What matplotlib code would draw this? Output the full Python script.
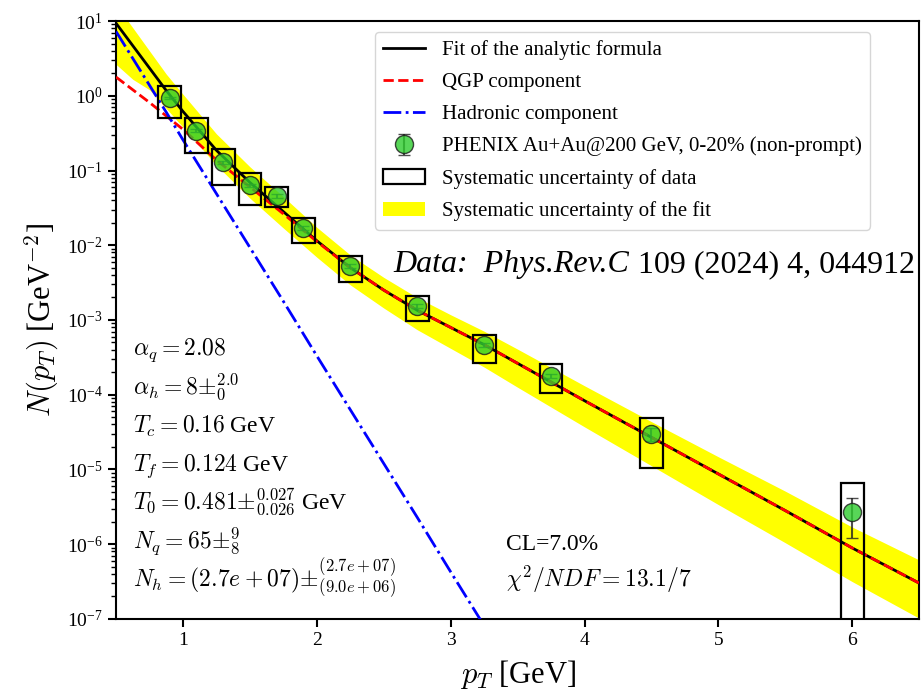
import numpy as np
import matplotlib
matplotlib.use('Agg')
import matplotlib.pyplot as plt
from matplotlib.patches import Rectangle
from matplotlib.offsetbox import TextArea, HPacker, AnchoredOffsetbox

plt.rcParams['font.family'] = 'serif'
plt.rcParams['font.serif'] = ['Liberation Serif', 'DejaVu Serif']
plt.rcParams['mathtext.fontset'] = 'cm'

# PHENIX data points
pt = [0.9, 1.1, 1.3, 1.5, 1.7, 1.9, 2.25, 2.75, 3.25, 3.75, 4.5, 6.0]
yields = [0.93, 0.34, 0.13, 0.064, 0.046, 0.017, 0.0053, 0.00154, 4.6e-4, 1.78e-4, 2.99e-5, 2.7e-6]
stat_err = [0.03, 0.015, 0.006, 0.003, 0.003, 0.001, 0.0003, 0.0001, 3e-5, 1.2e-5, 6e-6, 1.5e-6]
sys_lo = [0.50, 0.171, 0.064, 0.0346, 0.0325, 0.0107, 0.00322, 0.00097, 2.66e-4, 1.05e-4, 1.05e-5, 1e-9]
sys_hi = [1.35, 0.50, 0.194, 0.093, 0.060, 0.0232, 0.0072, 0.00209, 6.3e-4, 2.58e-4, 4.9e-5, 6.6e-6]
box_width = 0.17

# curves, stored as log10 values
curve_pt = [0.5, 0.625, 0.75, 0.875, 1.0, 1.25, 1.5, 1.75, 2.0, 2.25, 2.5, 2.75, 3.0, 3.25,
            3.5, 4.0, 4.5, 5.0, 5.5, 6.0, 6.5]
fit_log = [0.97, 0.67, 0.37, 0.07, -0.21, -0.73, -1.16, -1.55, -1.94, -2.30, -2.60, -2.87,
           -3.10, -3.33, -3.58, -4.08, -4.57, -5.06, -5.55, -6.05, -6.52]
qgp_log = [0.25, 0.08, -0.09, -0.27, -0.45, -0.86, -1.22, -1.58, -1.95, -2.30, -2.60, -2.87,
           -3.10, -3.33, -3.58, -4.08, -4.57, -5.06, -5.55, -6.05, -6.52]
band_hi_log = [1.22, 0.91, 0.60, 0.29, 0.02, -0.51, -0.95, -1.35, -1.76, -2.13, -2.43, -2.70,
               -2.93, -3.15, -3.39, -3.88, -4.36, -4.83, -5.29, -5.77, -6.21]
band_lo_log = [0.42, 0.22, 0.08, -0.17, -0.42, -0.93, -1.37, -1.77, -2.16, -2.53, -2.84, -3.13,
               -3.38, -3.63, -3.90, -4.43, -4.95, -5.47, -5.98, -6.50, -6.99]
hadr_pt = [0.5, 0.625, 0.75, 0.875, 1.0, 1.25, 1.5, 1.75, 2.0, 2.25, 2.5, 2.75, 3.0, 3.25]
hadr_log = [0.86, 0.50, 0.14, -0.22, -0.59, -1.31, -2.03, -2.75, -3.48, -4.20, -4.92, -5.64,
            -6.37, -7.09]

params = [
    r'$\alpha_q = 2.08$',
    r'$\alpha_h = 8{\pm}_{0}^{2.0}$',
    r'$T_c = 0.16$ GeV',
    r'$T_f = 0.124$ GeV',
    r'$T_0 = 0.481{\pm}_{0.026}^{0.027}$ GeV',
    r'$N_q = 65{\pm}_{8}^{9}$',
    r'$N_h = (2.7e+07){\pm}_{(9.0e+06)}^{(2.7e+07)}$',
]

fig = plt.figure(figsize=(9.21, 6.98), dpi=100)
ax = fig.add_axes([0.126, 0.1132, 0.872, 0.8567])

band = ax.fill_between(curve_pt, 10 ** np.array(band_lo_log), 10 ** np.array(band_hi_log),
                       color='yellow', lw=0, zorder=1, label='Systematic uncertainty of the fit')
fit_line, = ax.plot(curve_pt, 10 ** np.array(fit_log), color='black', lw=2, zorder=2,
                    label='Fit of the analytic formula')
qgp_line, = ax.plot(curve_pt, 10 ** np.array(qgp_log), color='red', ls='--', lw=2, zorder=3,
                    label='QGP component')
hadr_line, = ax.plot(hadr_pt, 10 ** np.array(hadr_log), color='blue', ls='-.', lw=2, zorder=3,
                     label='Hadronic component')

for x, lo, hi in zip(pt, sys_lo, sys_hi):
    ax.add_patch(Rectangle((x - box_width / 2, lo), box_width, hi - lo, fill=False,
                           edgecolor='black', lw=1.6, zorder=4))
box_handle = Rectangle((0, 0), 1, 1, fill=False, edgecolor='black', lw=1.6,
                       label='Systematic uncertainty of data')

pts = ax.errorbar(pt, yields, yerr=stat_err, fmt='o', color='#222222', ecolor='#222222',
                  elinewidth=1.5, capsize=4, markersize=13, markerfacecolor='#2ecc2e',
                  markeredgecolor='#1a1a1a', alpha=0.8, zorder=5,
                  label='PHENIX Au+Au@200 GeV, 0-20% (non-prompt)')

ax.set_yscale('log')
ax.set_xlim(0.5, 6.5)
ax.set_ylim(1e-7, 1e1)
ax.set_xticks([1, 2, 3, 4, 5, 6])
ax.tick_params(labelsize=14, width=1.5, length=6)
ax.tick_params(which='minor', width=1, length=3.5)
for s in ax.spines.values():
    s.set_linewidth(1.5)
ax.set_xlabel(r'$p_T$ [GeV]', fontsize=22, labelpad=6)
ax.set_ylabel(r'$N(p_T)$ [GeV$^{-2}$]', fontsize=22, labelpad=4)

ax.legend(handles=[fit_line, qgp_line, hadr_line, pts, box_handle, band],
          loc='upper left', bbox_to_anchor=(0.3225, 0.982), borderaxespad=0,
          fontsize=15, labelspacing=0.6)

y0 = 0.441
for i, p in enumerate(params):
    ax.text(0.021, y0 - i * 0.0647, p, transform=ax.transAxes, fontsize=17,
            va='baseline', ha='left')

ax.text(0.486, 0.115, 'CL=7.0%', transform=ax.transAxes, fontsize=17, va='baseline')
ax.text(0.486, 0.054, r'$\chi^2/NDF = 13.1/7$', transform=ax.transAxes, fontsize=17,
        va='baseline')

# source reference: italic part + roman part on one baseline
ref_box = HPacker(children=[TextArea('Data:  Phys.Rev.C', textprops=dict(fontsize=23, style='italic')),
                            TextArea('109 (2024) 4, 044912', textprops=dict(fontsize=23))],
                  align='baseline', pad=0, sep=6)
anchored = AnchoredOffsetbox(loc='lower right', child=ref_box, pad=0, borderpad=0,
                             frameon=False, bbox_to_anchor=(0.9935, 0.600),
                             bbox_transform=fig.transFigure)
fig.add_artist(anchored)

fig.savefig('out.png', dpi=100)
